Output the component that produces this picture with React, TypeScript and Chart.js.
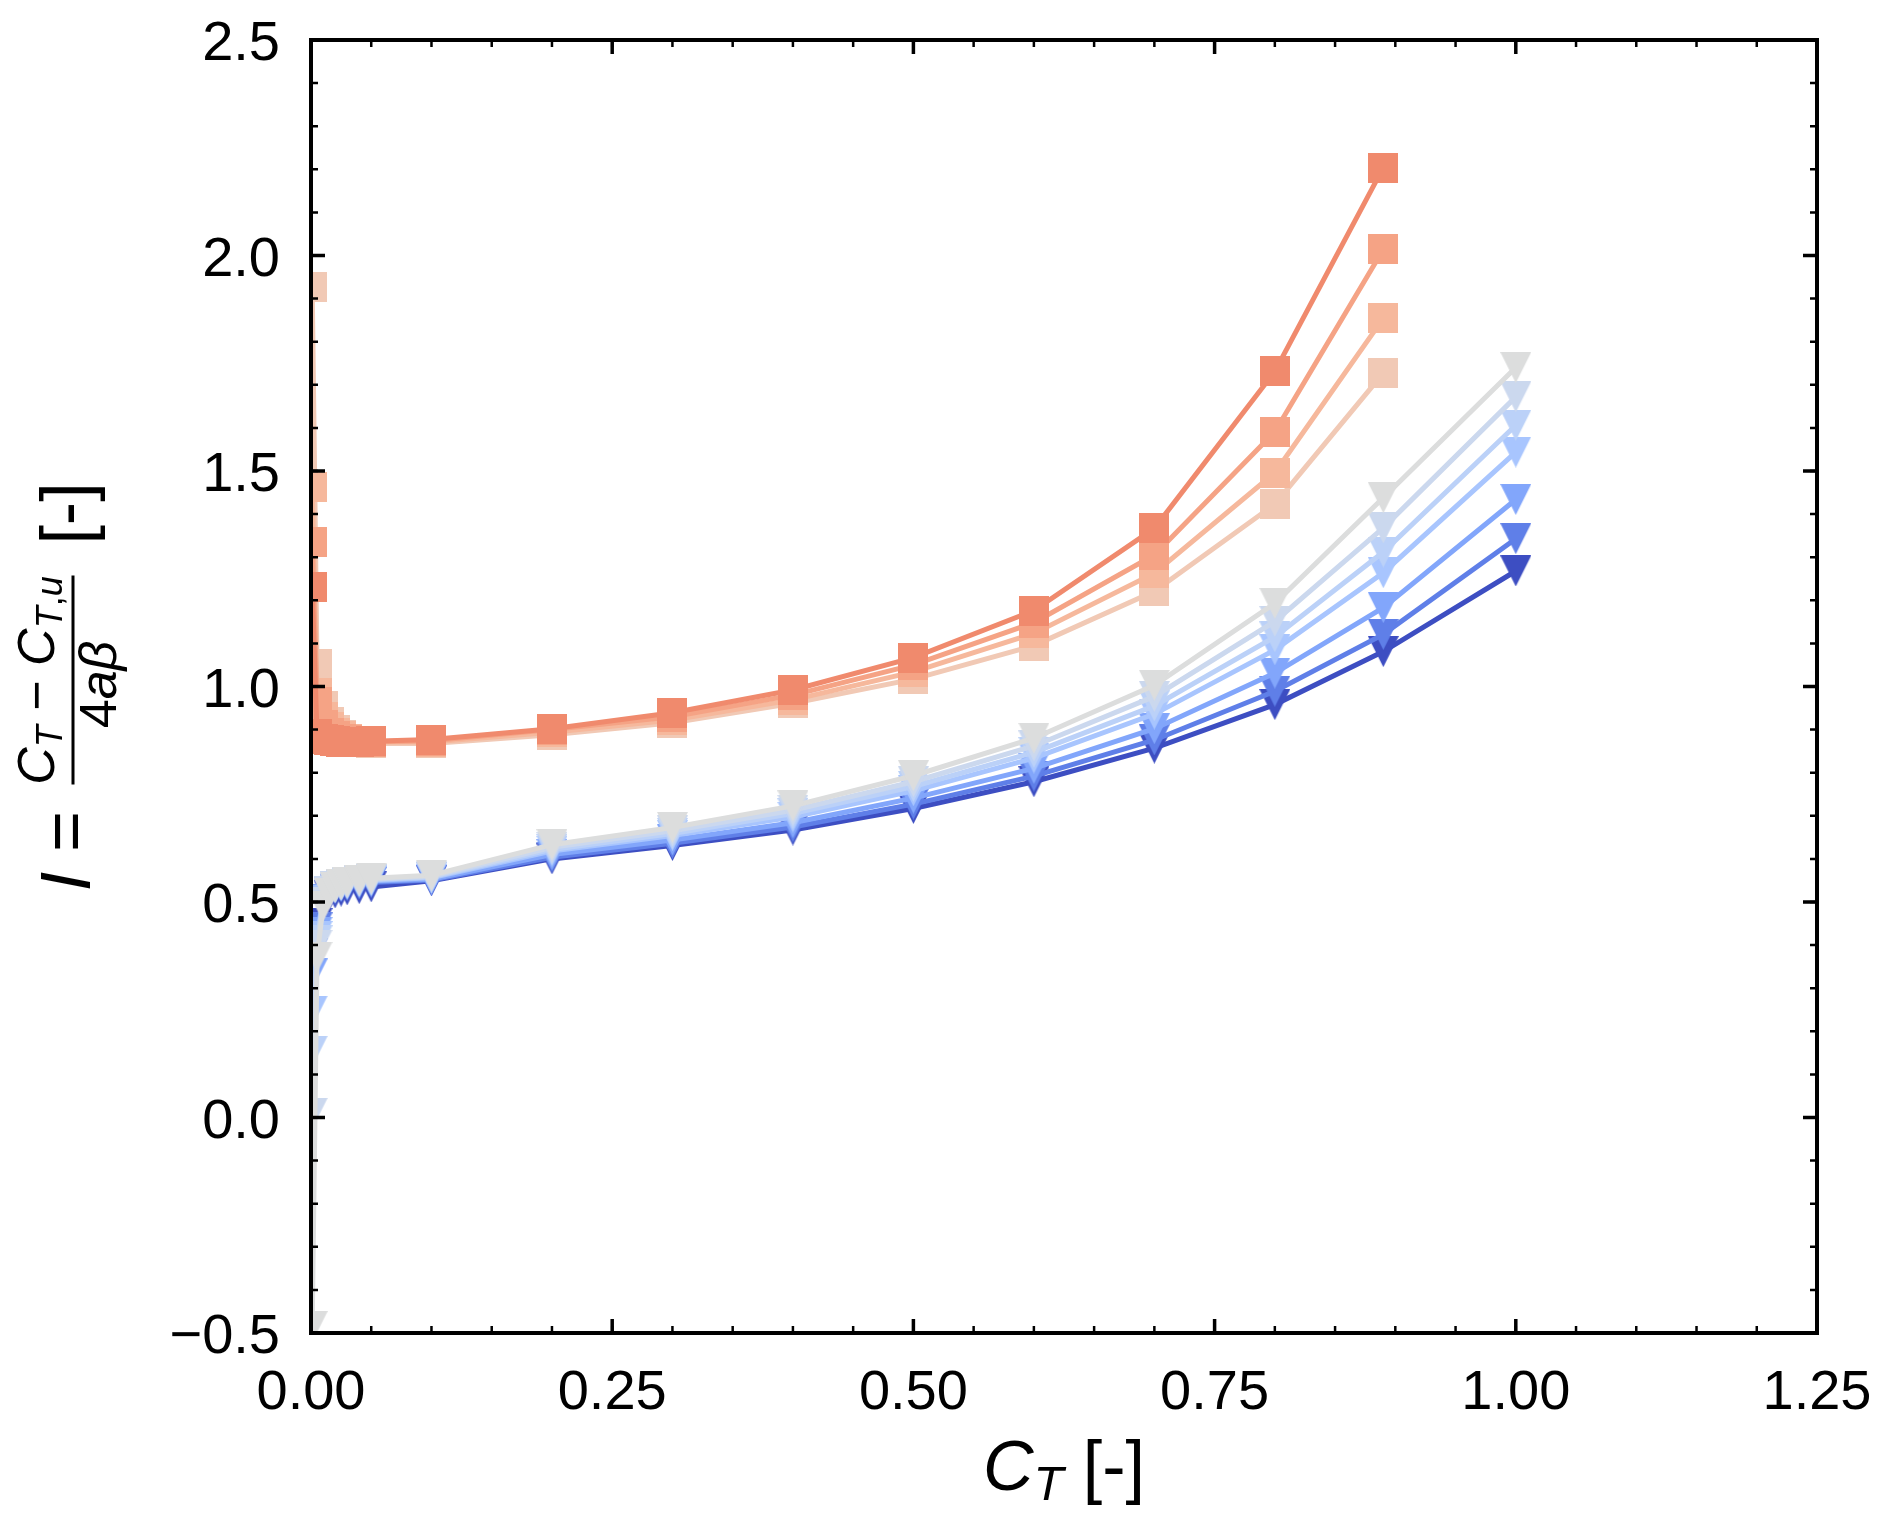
import React, { useEffect, useRef } from "react";
import { Chart, registerables } from "chart.js";

Chart.register(...registerables);

// ---------------- data ----------------
const xOrange = [0.001, 0.005, 0.01, 0.015, 0.02, 0.025, 0.03, 0.04, 0.05, 0.1, 0.2, 0.3, 0.4, 0.5, 0.6, 0.7, 0.8, 0.89];
const xBlue = [0.001, 0.005, 0.01, 0.015, 0.02, 0.025, 0.03, 0.04, 0.05, 0.1, 0.2, 0.3, 0.4, 0.5, 0.6, 0.7, 0.8, 0.89, 1.0];

const orange1 = [1.23, 0.89, 0.878, 0.875, 0.873, 0.872, 0.872, 0.872, 0.873, 0.877, 0.902, 0.939, 0.992, 1.067, 1.176, 1.367, 1.731, 2.204];
const orange2 = [1.336, 0.963, 0.91, 0.893, 0.884, 0.879, 0.876, 0.873, 0.872, 0.874, 0.9, 0.93, 0.98, 1.05, 1.148, 1.305, 1.591, 2.014];
const orange3 = [1.462, 0.985, 0.93, 0.905, 0.892, 0.884, 0.879, 0.874, 0.871, 0.871, 0.894, 0.922, 0.969, 1.034, 1.123, 1.263, 1.496, 1.854];
const orange4 = [1.926, 1.052, 0.954, 0.917, 0.898, 0.887, 0.878, 0.872, 0.868, 0.868, 0.888, 0.916, 0.961, 1.017, 1.095, 1.221, 1.423, 1.727];

const blue1 = [0.41, 0.45, 0.5, 0.515, 0.521, 0.525, 0.528, 0.531, 0.535, 0.549, 0.6, 0.631, 0.667, 0.717, 0.779, 0.857, 0.958, 1.081, 1.268];
const blue2 = [0.38, 0.44, 0.505, 0.522, 0.53, 0.535, 0.538, 0.542, 0.545, 0.551, 0.604, 0.636, 0.674, 0.727, 0.792, 0.876, 0.989, 1.121, 1.343];
const blue3 = [0.333, 0.43, 0.505, 0.524, 0.533, 0.538, 0.541, 0.545, 0.548, 0.553, 0.61, 0.644, 0.684, 0.741, 0.81, 0.902, 1.031, 1.183, 1.434];
const blue4 = [0.247, 0.42, 0.503, 0.524, 0.534, 0.539, 0.543, 0.547, 0.55, 0.556, 0.618, 0.654, 0.697, 0.758, 0.834, 0.936, 1.085, 1.264, 1.544];
const blue5 = [0.154, 0.41, 0.5, 0.524, 0.535, 0.54, 0.544, 0.549, 0.552, 0.558, 0.622, 0.659, 0.705, 0.768, 0.847, 0.955, 1.115, 1.312, 1.606];
const blue6 = [0.01, 0.4, 0.5, 0.524, 0.535, 0.541, 0.545, 0.55, 0.553, 0.56, 0.627, 0.665, 0.713, 0.779, 0.862, 0.977, 1.151, 1.368, 1.672];
const blue7 = [-0.485, 0.372, 0.49, 0.52, 0.534, 0.541, 0.546, 0.551, 0.555, 0.562, 0.633, 0.673, 0.723, 0.793, 0.88, 1.003, 1.193, 1.438, 1.74];

const orangeColors = ["#f08a6d", "#f5a385", "#f6b89c", "#f1c9b5"];
const blueColors = ["#3d4ec2", "#5f7fe8", "#82a6fb", "#a8c5fe", "#bbd1f8", "#cbd8ee", "#dcdddd"];

const xTickValues = [0, 0.25, 0.5, 0.75, 1.0, 1.25];
const xTickLabels = ["0.00", "0.25", "0.50", "0.75", "1.00", "1.25"];
const yTickValues = [-0.5, 0, 0.5, 1.0, 1.5, 2.0, 2.5];
const yTickLabels = ["\u22120.5", "0.0", "0.5", "1.0", "1.5", "2.0", "2.5"];
const xMinorStep = 0.05;
const yMinorStep = 0.1;

// ---------------- helpers ----------------
const FONT = "'Liberation Sans', Arial, Helvetica, sans-serif";

function makeMarker(shape: string, color: string, size: number) {
  const c = document.createElement("canvas");
  c.width = size;
  c.height = size;
  const g = c.getContext("2d")!;
  g.fillStyle = color;
  if (shape === "square") {
    g.fillRect(0, 0, size, size);
  } else {
    g.beginPath();
    g.moveTo(0, 0);
    g.lineTo(size, 0);
    g.lineTo(size / 2, size);
    g.closePath();
    g.fill();
  }
  return c;
}

type Run = { text: string; font: string; dy?: number };

function runsWidth(ctx: CanvasRenderingContext2D, runs: Run[]) {
  let w = 0;
  for (const r of runs) {
    ctx.font = r.font;
    w += ctx.measureText(r.text).width;
  }
  return w;
}

function drawRunsCentered(ctx: CanvasRenderingContext2D, runs: Run[], cx: number, baseY: number) {
  const total = runsWidth(ctx, runs);
  let x = cx - total / 2;
  ctx.textAlign = "left";
  ctx.textBaseline = "alphabetic";
  for (const r of runs) {
    ctx.font = r.font;
    ctx.fillText(r.text, x, baseY + (r.dy || 0));
    x += ctx.measureText(r.text).width;
  }
  return total;
}

const decorPlugin = {
  id: "decor",
  afterDraw(chart: any) {
    const ctx: CanvasRenderingContext2D = chart.ctx;
    const { left, right, top, bottom } = chart.chartArea;
    const xs = chart.scales.x;
    const ys = chart.scales.y;
    ctx.save();
    ctx.strokeStyle = "#000";
    ctx.fillStyle = "#000";
    ctx.lineCap = "butt";

    // minor ticks
    ctx.lineWidth = 2.5;
    const minorLen = 7;
    for (let v = 0; v <= 1.25 + 1e-9; v += xMinorStep) {
      const px = xs.getPixelForValue(v);
      ctx.beginPath();
      ctx.moveTo(px, bottom);
      ctx.lineTo(px, bottom - minorLen);
      ctx.moveTo(px, top);
      ctx.lineTo(px, top + minorLen);
      ctx.stroke();
    }
    for (let v = -0.5; v <= 2.5 + 1e-9; v += yMinorStep) {
      const py = ys.getPixelForValue(v);
      ctx.beginPath();
      ctx.moveTo(left, py);
      ctx.lineTo(left + minorLen, py);
      ctx.moveTo(right, py);
      ctx.lineTo(right - minorLen, py);
      ctx.stroke();
    }
    // major ticks
    ctx.lineWidth = 3.5;
    const majorLen = 14;
    for (const v of xTickValues) {
      const px = xs.getPixelForValue(v);
      ctx.beginPath();
      ctx.moveTo(px, bottom);
      ctx.lineTo(px, bottom - majorLen);
      ctx.moveTo(px, top);
      ctx.lineTo(px, top + majorLen);
      ctx.stroke();
    }
    for (const v of yTickValues) {
      const py = ys.getPixelForValue(v);
      ctx.beginPath();
      ctx.moveTo(left, py);
      ctx.lineTo(left + majorLen, py);
      ctx.moveTo(right, py);
      ctx.lineTo(right - majorLen, py);
      ctx.stroke();
    }
    // frame
    ctx.lineWidth = 4;
    ctx.strokeRect(left, top, right - left, bottom - top);

    // tick labels
    ctx.font = `56px ${FONT}`;
    ctx.textBaseline = "alphabetic";
    ctx.textAlign = "center";
    xTickValues.forEach((v, i) => {
      ctx.fillText(xTickLabels[i], xs.getPixelForValue(v), bottom + 76);
    });
    ctx.textAlign = "right";
    yTickValues.forEach((v, i) => {
      ctx.fillText(yTickLabels[i], left - 31, ys.getPixelForValue(v) + 20);
    });

    // x title: C_T [-]
    const big = 70;
    drawRunsCentered(
      ctx,
      [
        { text: "C", font: `italic ${big}px ${FONT}` },
        { text: "T", font: `italic ${Math.round(big * 0.7)}px ${FONT}`, dy: 10 },
        { text: " [-]", font: `${big}px ${FONT}` },
      ],
      (left + right) / 2,
      bottom + 157
    );

    // y title (rotated)
    const mid = (top + bottom) / 2;
    ctx.save();
    ctx.translate(90, mid);
    ctx.rotate(-Math.PI / 2);
    const s = 52;
    const sub = Math.round(s * 0.7);
    const subDy = 8;
    drawRunsCentered(ctx, [{ text: "I", font: `italic ${big}px ${FONT}` }], -195, 0);
    drawRunsCentered(ctx, [{ text: "=", font: `${big}px ${FONT}` }], -145, 0);
    // numerator
    drawRunsCentered(
      ctx,
      [
        { text: "C", font: `italic ${s}px ${FONT}` },
        { text: "T", font: `italic ${sub}px ${FONT}`, dy: subDy },
        { text: " \u2212 ", font: `${s}px ${FONT}` },
        { text: "C", font: `italic ${s}px ${FONT}` },
        { text: "T", font: `italic ${sub}px ${FONT}`, dy: subDy },
        { text: ",", font: `${sub}px ${FONT}`, dy: subDy },
        { text: "u", font: `italic ${sub}px ${FONT}`, dy: subDy },
      ],
      6,
      -36
    );
    // bar
    ctx.fillRect(-98, -18.5, 209, 3);
    // denominator
    drawRunsCentered(
      ctx,
      [
        { text: "4", font: `${s}px ${FONT}` },
        { text: "a", font: `italic ${s}px ${FONT}` },
        { text: "\u03b2", font: `italic ${s}px ${FONT}` },
      ],
      2,
      26
    );
    drawRunsCentered(ctx, [{ text: "[-]", font: `${big}px ${FONT}` }], 173, 0);
    ctx.restore();

    ctx.restore();
  },
};

function series(xs: number[], ys: number[]) {
  return xs.map((x, i) => ({ x, y: ys[i] }));
}

export default function App() {
  const ref = useRef<HTMLCanvasElement>(null);

  useEffect(() => {
    const canvas = ref.current!;
    const orangeData = [orange1, orange2, orange3, orange4];
    const blueData = [blue1, blue2, blue3, blue4, blue5, blue6, blue7];

    const datasets: any[] = [];
    orangeData.forEach((ys, i) => {
      datasets.push({
        data: series(xOrange, ys),
        borderColor: orangeColors[i],
        backgroundColor: orangeColors[i],
        borderWidth: 5,
        pointStyle: makeMarker("square", orangeColors[i], 30),
        pointRadius: 15,
        tension: 0,
        clip: 0,
      });
    });
    // lighter blue drawn on top of darker: put lightest first in array
    for (let i = blueData.length - 1; i >= 0; i--) {
      datasets.push({
        data: series(xBlue, blueData[i]),
        borderColor: blueColors[i],
        backgroundColor: blueColors[i],
        borderWidth: 5,
        pointStyle: makeMarker("triangle", blueColors[i], 31),
        pointRadius: 15,
        tension: 0,
        clip: 0,
      });
    }

    const chart = new Chart(canvas, {
      type: "line",
      data: { datasets },
      options: {
        responsive: false,
        animation: false,
        devicePixelRatio: 1,
        events: [],
        layout: { padding: { left: 0, right: 75, top: 40, bottom: 0 } },
        plugins: {
          legend: { display: false },
          tooltip: { enabled: false },
          title: { display: false },
        },
        scales: {
          x: {
            type: "linear",
            min: 0,
            max: 1.25,
            grid: { display: false },
            border: { display: false },
            ticks: { display: false },
            afterFit: (sc: any) => {
              sc.height = 191;
            },
          },
          y: {
            type: "linear",
            min: -0.5,
            max: 2.5,
            grid: { display: false },
            border: { display: false },
            ticks: { display: false },
            afterFit: (sc: any) => {
              sc.width = 311;
            },
          },
        },
      } as any,
      plugins: [decorPlugin],
    });
    return () => chart.destroy();
  }, []);

  return (
    <div style={{ position: "absolute", left: 0, top: 0, width: 1892, height: 1524, background: "#ffffff" }}>
      <canvas ref={ref} width={1892} height={1524} style={{ width: 1892, height: 1524, display: "block" }} />
    </div>
  );
}
